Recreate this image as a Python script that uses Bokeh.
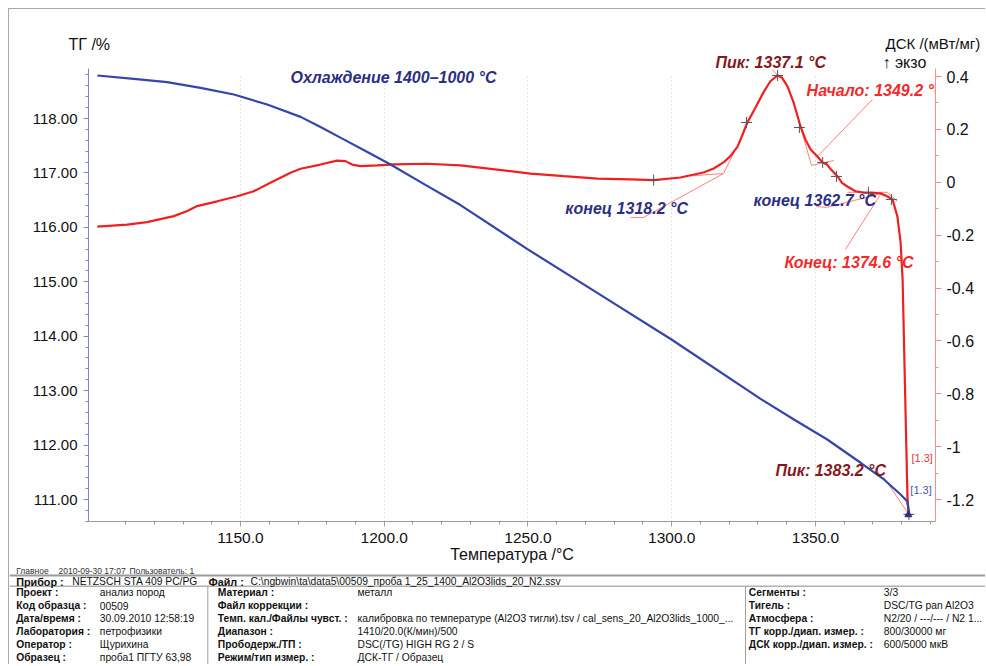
from bokeh.plotting import figure
from bokeh.models import (LinearAxis, Range1d, FixedTicker, NumeralTickFormatter,
                          CustomJSTickFormatter, Label)
from bokeh.embed import file_html
from bokeh.resources import INLINE
from bokeh.core.properties import value

# ---------------- data ----------------
tg_temp = [1100.2, 1112.9, 1124.5, 1136.1, 1147.7, 1159.3, 1170.9, 1178.0, 1185.4, 1193.8, 1202.2,
           1214.0, 1226.5, 1249.8, 1275.2, 1299.9, 1330.9, 1342.5, 1354.1, 1365.7, 1373.8, 1379.6,
           1381.9, 1382.5]
tg_val = [118.790, 118.729, 118.667, 118.564, 118.441, 118.257, 118.030, 117.840, 117.630, 117.395, 117.155,
          116.790, 116.410, 115.600, 114.760, 113.940, 112.850, 112.470, 112.103, 111.675, 111.368, 111.092,
          110.969, 110.756]

dsc_temp = [1100.2, 1110.6, 1117.5, 1126.8, 1131.5, 1134.9, 1141.9, 1148.9, 1154.6, 1160.4,
            1167.4, 1170.9, 1177.8, 1183.6, 1186.5, 1188.8, 1191.7, 1197.6, 1203.3, 1214.9,
            1226.5, 1250.9, 1262.5, 1274.2, 1285.7, 1293.7, 1303.0, 1311.0, 1314.6, 1318.0,
            1320.4, 1322.9, 1324.5, 1326.3, 1329.1, 1331.9, 1334.3, 1336.8, 1338.4, 1340.3,
            1342.4, 1344.8, 1346.5, 1348.3, 1350.5, 1352.5, 1354.0, 1355.4, 1357.7, 1359.2,
            1361.1, 1363.9, 1366.7, 1369.6, 1372.6, 1374.9, 1376.8, 1378.5, 1379.6, 1380.3,
            1382.0, 1382.5]
dsc_val = [-0.168, -0.160, -0.151, -0.128, -0.109, -0.090, -0.072, -0.053, -0.034, -0.002,
           0.036, 0.051, 0.067, 0.082, 0.080, 0.067, 0.061, 0.064, 0.068, 0.070,
           0.064, 0.033, 0.023, 0.014, 0.011, 0.008, 0.018, 0.037, 0.052, 0.075,
           0.099, 0.135, 0.177, 0.226, 0.282, 0.340, 0.382, 0.404, 0.395, 0.362,
           0.301, 0.211, 0.162, 0.124, 0.099, 0.075, 0.067, 0.048, 0.022, -0.002,
           -0.016, -0.034, -0.039, -0.040, -0.042, -0.053, -0.065, -0.130, -0.227, -0.367,
           -1.199, -1.256]

# characteristic points (+) on the DSC curve
mark_temp = [1293.7, 1326.0, 1336.8, 1344.4, 1352.5, 1357.3, 1368.4, 1376.4, 1382.5]
mark_val = [0.008, 0.226, 0.404, 0.207, 0.075, 0.022, -0.038, -0.065, -1.256]

# TG end point
tg_end_temp = [1382.3]
tg_end_val = [110.72]

# evaluation construction lines (DSC units)
cons_t0 = [1285.7, 1290.2, 1306.5, 1318.0, 1369.8, 1344.8, 1348.6, 1350.3, 1353.8, 1361.1, 1375.0, 1360.4, 1335.0, 1373.7, 1381.5, 1380.9]
cons_v0 = [-0.133, -0.133, 0.024, 0.033, 0.313, 0.207, 0.064, -0.092, -0.095, -0.038, -0.038, -0.254, 0.427, -1.116, -0.935, -1.256]
cons_t1 = [1290.2, 1318.0, 1318.0, 1322.2, 1350.7, 1348.6, 1356.3, 1353.8, 1371.9, 1375.0, 1378.5, 1372.6, 1336.8, 1382.5, 1382.3, 1384.1]
cons_v1 = [-0.133, 0.033, 0.033, 0.124, 0.098, 0.064, 0.082, -0.095, -0.046, -0.038, -0.072, -0.046, 0.404, -1.256, -1.256, -1.256]

x_major = [1150, 1200, 1250, 1300, 1350]
x_minor = [1110, 1120, 1130, 1140, 1160, 1170, 1180, 1190, 1210, 1220, 1230, 1240, 1260, 1270,
           1280, 1290, 1310, 1320, 1330, 1340, 1360, 1370, 1380, 1390]
tg_major = [111, 112, 113, 114, 115, 116, 117, 118]
tg_minor = [110.6, 110.8, 111.2, 111.4, 111.6, 111.8, 112.2, 112.4, 112.6, 112.8, 113.2, 113.4,
            113.6, 113.8, 114.2, 114.4, 114.6, 114.8, 115.2, 115.4, 115.6, 115.8, 116.2, 116.4,
            116.6, 116.8, 117.2, 117.4, 117.6, 117.8, 118.2, 118.4, 118.6, 118.8]
dsc_major = [-1.2, -1.0, -0.8, -0.6, -0.4, -0.2, 0.0, 0.2, 0.4]
dsc_minor = [-1.1, -0.9, -0.7, -0.5, -0.3, -0.1, 0.1, 0.3]

# footer table texts
info_labels1 = ["Проект :", "Код образца :", "Дата/время :", "Лаборатория :", "Оператор :", "Образец :"]
info_values1 = ["анализ пород", "00509", "30.09.2010 12:58:19", "петрофизики", "Щурихина", "проба1 ПГТУ 63,98"]
info_labels2 = ["Материал :", "Файл коррекции :", "Темп. кал./Файлы чувст. :", "Диапазон :",
                "Прободерж./ТП :", "Режим/тип измер. :"]
info_values2 = ["металл", "", "калибровка по температуре (Al2O3 тигли).tsv / cal_sens_20_Al2O3lids_1000_...",
                "1410/20.0(К/мин)/500", "DSC(/TG) HIGH RG 2 / S", "ДСК-ТГ / Образец"]
info_labels3 = ["Сегменты :", "Тигель :", "Атмосфера :", "ТГ корр./диап. измер. :", "ДСК корр./диап. измер. :"]
info_values3 = ["3/3", "DSC/TG pan Al2O3", "N2/20 / ---/--- / N2 1...", "800/30000 мг", "600/5000 мкВ"]

# ---------------- styles ----------------
FONT = "Liberation Sans"
BLUE = "#3545a8"
RED = "#ee2020"
NAVY = "#2c2f82"
DARKRED = "#84191d"
TXTRED = "#ef2b2b"
BORDER = "1px solid #a8a8a8"
W = 977

TG_LO, TG_HI = 110.596, 118.919       # drawn extent of the TG axis
DSC_LO, DSC_HI = -1.283, 0.430        # drawn extent of the DSC axis
TG_TOP, DSC_TOP = 119.2126, 0.4908    # frame top (room for labels above the axes)


def pixel_fig(h, top_border=False):
    """A figure whose data units are canvas pixels (y downwards), used for page texts."""
    st = {"border-left": BORDER}
    if top_border:
        st["border-top"] = BORDER
    fig = figure(width=W, height=h, x_range=Range1d(0, W), y_range=Range1d(h, 0),
                 output_backend="svg", toolbar_location=None, min_border=0,
                 x_axis_type=None, y_axis_type=None, outline_line_color=None,
                 background_fill_color="white", border_fill_color="white", styles=st)
    fig.grid.visible = False
    return fig


def ptext(fig, xs, ys, texts, size="11px", style="normal", color="#111111"):
    fig.text(x=xs, y=ys, text=texts, text_font=value(FONT), text_font_size=size,
             text_font_style=style, text_color=color, text_baseline="middle")


# ---------------- header (axis titles above the plot) ----------------
h = pixel_fig(44, top_border=True)
h.margin = (8, 0, 0, 8)
ptext(h, [59], [35], ["ТГ /%"], "16px")
ptext(h, [876], [33.7], ["ДСК /(мВт/мг)"], "15px")

# ---------------- main plot ----------------
p = figure(width=W, height=514, x_range=Range1d(1097.13, 1391.74), y_range=Range1d(TG_LO, TG_TOP),
           output_backend="svg", toolbar_location=None,
           min_border_left=79, min_border_right=51, min_border_top=0, min_border_bottom=45,
           background_fill_color="white", border_fill_color="white", outline_line_color=None,
           styles={"border-left": BORDER})
p.margin = (0, 0, 0, 8)
p.extra_y_ranges = {"dsc": Range1d(DSC_LO, DSC_TOP)}

xa = p.xaxis[0]
xa.ticker = FixedTicker(ticks=x_major, minor_ticks=x_minor)
xa.formatter = NumeralTickFormatter(format="0.0")
xa.axis_line_color = "#9a9a9a"
xa.major_tick_line_color = "#9a9a9a"
xa.minor_tick_line_color = "#9a9a9a"
xa.major_tick_in = 0
xa.major_tick_out = 5
xa.minor_tick_in = 0
xa.minor_tick_out = 3
xa.major_label_standoff = 6
xa.major_label_text_font = FONT
xa.major_label_text_font_size = "15.5px"
xa.major_label_text_color = "#111111"
xa.axis_label = "Температура /°C"
xa.axis_label_standoff = 0
xa.axis_label_text_font = FONT
xa.axis_label_text_font_size = "16px"
xa.axis_label_text_font_style = "normal"
xa.axis_label_text_color = "#111111"

ya = p.yaxis[0]
ya.bounds = (TG_LO, TG_HI)
ya.ticker = FixedTicker(ticks=tg_major, minor_ticks=tg_minor)
ya.formatter = NumeralTickFormatter(format="0.00")
ya.axis_line_color = "#8282d6"
ya.major_tick_line_color = "#8282d6"
ya.minor_tick_line_color = "#8282d6"
ya.major_tick_in = 0
ya.major_tick_out = 5
ya.minor_tick_in = 0
ya.minor_tick_out = 3
ya.major_label_standoff = 6
ya.major_label_text_font = FONT
ya.major_label_text_font_size = "15px"
ya.major_label_text_color = "#111111"

ra = LinearAxis(y_range_name="dsc", bounds=(DSC_LO, DSC_HI),
                ticker=FixedTicker(ticks=dsc_major, minor_ticks=dsc_minor),
                formatter=CustomJSTickFormatter(code="return String(Math.round(tick*10)/10);"))
ra.axis_line_color = "#ff8a8a"
ra.major_tick_line_color = "#ff8a8a"
ra.minor_tick_line_color = "#ff8a8a"
ra.major_tick_in = 0
ra.major_tick_out = 6
ra.minor_tick_in = 0
ra.minor_tick_out = 3
ra.major_label_standoff = 5
ra.major_label_text_font = FONT
ra.major_label_text_font_size = "16px"
ra.major_label_text_color = "#111111"
p.add_layout(ra, "right")

p.xgrid.ticker = FixedTicker(ticks=x_major)
p.xgrid.grid_line_color = "#c8c8c8"
p.xgrid.grid_line_dash = "1 3"
if "cross_bounds" in p.xgrid[0].properties():
    p.xgrid[0].cross_bounds = (TG_LO, 118.78)
p.ygrid.visible = False

p.segment(x0=cons_t0, y0=cons_v0, x1=cons_t1, y1=cons_v1, y_range_name="dsc",
          line_color="#ff8080", line_width=1)
p.line(dsc_temp, dsc_val, y_range_name="dsc", line_color=RED, line_width=2.2)
p.line(tg_temp, tg_val, line_color=BLUE, line_width=2.2)
p.scatter(mark_temp, mark_val, y_range_name="dsc", marker="cross", size=11,
          line_color="#555555", line_width=1)
p.scatter(tg_end_temp, tg_end_val, marker="triangle", size=7, fill_color=NAVY, line_color=NAVY)


def lab(x, y, text, color, size="16px", style="bold italic"):
    p.add_layout(Label(x=x, y=y, text=text, text_color=color, text_font=FONT,
                       text_font_size=size, text_font_style=style, text_baseline="middle"))


lab(1373.3, 119.034, "↑ экзо", "#111111", "16px", "normal")
lab(1315.2, 119.034, "Пик: 1337.1 °C", DARKRED)
lab(1167.4, 118.753, "Охлаждение 1400–1000 °C", NAVY)
lab(1263.0, 116.347, "конец 1318.2 °C", NAVY)
lab(1328.4, 116.499, "конец 1362.7 °C", NAVY)
lab(1339.2, 115.354, "Конец: 1374.6 °C", TXTRED)
lab(1336.1, 111.533, "Пик: 1383.2 °C", DARKRED)
lab(1383.4, 111.754, "[1.3]", "#ee3a3a", "11px", "normal")
lab(1383.0, 111.166, "[1.3]", "#4a56b0", "11px", "normal")
# clipped by the plot frame, as in the original
p.text(x=[1346.9], y=[118.52], text=["Начало: 1349.2 °C"], text_color=TXTRED,
       text_font=value(FONT), text_font_size="16px", text_font_style="bold italic",
       text_baseline="middle")

# ---------------- footer ----------------
FH = 98
f = pixel_fig(FH)
f.margin = (0, 0, 0, 8)
f.segment(x0=[0, 0, 198.3, 736], y0=[9, 19.7, 19.7, 19.7], x1=[W, W, 198.3, 736], y1=[9, 19.7, FH, FH],
          line_color=["#9a9a9a", "#b0b0b0", "#a0a0a0", "#a0a0a0"], line_width=[2, 1.5, 1, 1])

ptext(f, [6.7, 49, 120], [4.2, 4.2, 4.2], ["Главное", "2010-09-30 17:07", "Пользователь: 1"], "8.5px", color="#333333")
ptext(f, [6.7, 199], [15, 15], ["Прибор :", "Файл :"], "10.8px", "bold")
ptext(f, [62.7, 241], [15, 15], ["NETZSCH STA 409 PC/PG",
                                 "C:\\ngbwin\\ta\\data5\\00509_проба 1_25_1400_Al2O3lids_20_N2.ssv"], "10.3px")
rows = [26.2, 39.2, 52.2, 65.2, 78.2, 91.0]
ptext(f, [6.7] * 6, rows, info_labels1, "10.3px", "bold")
ptext(f, [90.3] * 6, rows, info_values1, "10.3px")
ptext(f, [208.3] * 6, rows, info_labels2, "10.3px", "bold")
ptext(f, [348] * 6, rows, info_values2, "10.3px")
ptext(f, [739.3] * 5, rows[:5], info_labels3, "10.3px", "bold")
ptext(f, [874.3] * 5, rows[:5], info_values3, "10.3px")

open("out.html", "w").write(file_html([h, p, f], INLINE))
